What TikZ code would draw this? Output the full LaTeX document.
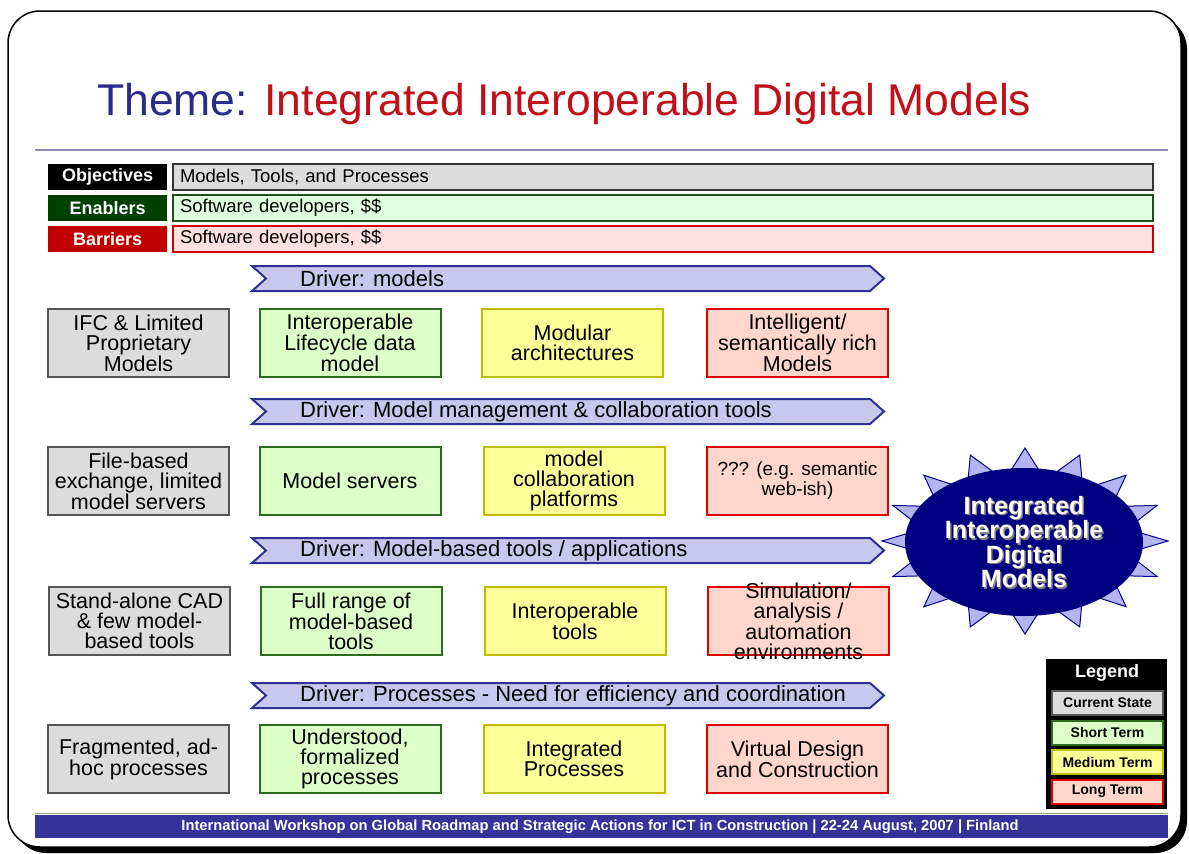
\documentclass[tikz,border=0pt]{standalone}
\usepackage{fontspec}
\setmainfont{Liberation Sans}
\usetikzlibrary{shapes.geometric}
\definecolor{titleblue}{HTML}{2B2B8C}
\definecolor{titlered}{HTML}{C0101A}
\definecolor{ruleviolet}{HTML}{8C8CB4}
\definecolor{objfill}{HTML}{DCDCDC}
\definecolor{objdraw}{HTML}{333333}
\definecolor{enlab}{HTML}{004000}
\definecolor{enfill}{HTML}{E0FFE0}
\definecolor{endraw}{HTML}{1E4D1E}
\definecolor{barlab}{HTML}{C00000}
\definecolor{barfill}{HTML}{FFE0E0}
\definecolor{bardraw}{HTML}{D00000}
\definecolor{drvfill}{HTML}{C8C8EE}
\definecolor{drvdraw}{HTML}{2E3192}
\definecolor{curfill}{HTML}{DCDCDC}
\definecolor{curdraw}{HTML}{555555}
\definecolor{stfill}{HTML}{DDFFC8}
\definecolor{stdraw}{HTML}{2F6B1F}
\definecolor{mdfill}{HTML}{FFFF99}
\definecolor{mddraw}{HTML}{BEBE00}
\definecolor{ltfill}{HTML}{FFD6CC}
\definecolor{ltdraw}{HTML}{E00000}
\definecolor{starfill}{HTML}{B4B4F0}
\definecolor{navy}{HTML}{000080}
\definecolor{footblue}{HTML}{333399}
\definecolor{footline}{HTML}{90A080}
\newcommand\mydriver[3]{%
  \path[drvshape] (252,{#2-12.5}) -- (870,{#2-12.5}) -- (884,#2) -- (870,{#2+12.5}) -- (252,{#2+12.5}) -- (266,#2) -- cycle;
  \node[drvtext] (#1) at (300,#2) {#3};}
\newcommand\mycell[5]{%
  \node[#2] (#1) at (#3,#4) {};
  \node[celltext] (#1t) at (#1.center) {#5};}
\begin{document}
\begin{tikzpicture}[x=1pt,y=-1pt,
  lab/.style={anchor=west, minimum width=119pt, minimum height=26pt, inner sep=0pt, text=white, font=\fontsize{18}{20}\selectfont\bfseries},
  barbox/.style={anchor=west, text width=966pt, inner xsep=7pt, inner ysep=0pt, minimum height=26pt, line width=2pt, font=\fontsize{18.5}{20}\selectfont},
  drvshape/.style={fill=drvfill, draw=drvdraw, line width=2pt, line join=miter},
  drvtext/.style={anchor=west, inner sep=0pt, font=\fontsize{22}{24}\selectfont},
  cell/.style={minimum width=181pt, minimum height=68pt, inner sep=0pt, line width=2pt},
  cur/.style={cell, fill=curfill, draw=curdraw},
  st/.style={cell, fill=stfill, draw=stdraw},
  md/.style={cell, fill=mdfill, draw=mddraw},
  lt/.style={cell, fill=ltfill, draw=ltdraw},
  celltext/.style={align=center, inner sep=0pt, font=\fontsize{21.5}{20}\selectfont},
  legitem/.style={minimum width=111pt, minimum height=24pt, inner sep=0pt, line width=2pt, font=\fontsize{14}{16}\selectfont\bfseries},
  startext/.style={align=center, inner sep=0pt, font=\fontsize{25}{23}\selectfont\bfseries}]
\useasboundingbox (0,0) rectangle (1189,854);
% frame
\fill[black, rounded corners=32pt] (14,17) rectangle (1187,853);
\draw[black, line width=1.5pt, fill=white, rounded corners=32pt] (8,11) rectangle (1181,847);
% title
\node[anchor=base west, inner sep=0pt, font=\fontsize{44.5}{50}\selectfont] (title) at (97,115)
  {\textcolor{titleblue}{Theme:} \textcolor{titlered}{Integrated Interoperable Digital Models}};
\draw[ruleviolet, line width=2pt] (35,150) -- (1168,150);
% objectives / enablers / barriers
\node[lab, fill=black] (objl) at (48,177) {Objectives};
\node[barbox, fill=objfill, draw=objdraw] (objb) at (172,177) {Models, Tools, and Processes};
\node[lab, fill=enlab] (enl) at (48,208) {Enablers};
\node[barbox, fill=enfill, draw=endraw] (enb) at (172,208) {Software developers, \$\$};
\node[lab, fill=barlab] (barl) at (48,239) {Barriers};
\node[barbox, fill=barfill, draw=bardraw] (barb) at (172,239) {Software developers, \$\$};
% starburst
\path[fill=starfill, draw=navy, line width=1pt, line join=miter] (1025,448)
  \foreach \k in {0,...,15} {
    -- ({1025+143*cos(90+22.5*\k)}, {541-93*sin(90+22.5*\k)})
    -- ({1025+104*cos(101.25+22.5*\k)}, {541-62*sin(101.25+22.5*\k)}) } -- cycle;
\node[ellipse, fill=navy, minimum width=238pt, minimum height=148pt, inner sep=0pt] (goal) at (1024,542) {};
\node[startext, text=gray] (goalsh) at ([shift={(1.5,1.5)}]goal.center) {Integrated\\Interoperable\\Digital\\Models};
\node[startext, text=white] (goalt) at (goal.center) {Integrated\\Interoperable\\Digital\\Models};
% drivers
\mydriver{d1}{278.5}{Driver: models}
\mydriver{d2}{411.5}{Driver: Model management \& collaboration tools}
\mydriver{d3}{550.5}{Driver: Model-based tools / applications}
\mydriver{d4}{695.5}{Driver: Processes - Need for efficiency and coordination}
% row 1
\mycell{a1}{cur}{138.5}{343}{IFC \& Limited\\Proprietary\\Models}
\mycell{b1}{st}{350}{343}{Interoperable\\Lifecycle data\\model}
\mycell{c1}{md}{572.5}{343}{Modular\\architectures}
\mycell{e1}{lt}{797.5}{343}{Intelligent/\\semantically rich\\Models}
% row 2
\mycell{a2}{cur}{138.5}{481}{File-based\\exchange, limited\\model servers}
\mycell{b2}{st}{350}{481}{Model servers}
\mycell{c2}{md}{574}{481}{model\\collaboration\\platforms}
\mycell{e2}{lt}{797.5}{481}{{\fontsize{19}{20}\selectfont ??? (e.g. semantic}\\{\fontsize{19}{20}\selectfont web-ish)}}
% row 3
\mycell{a3}{cur}{139.5}{621}{Stand-alone CAD\\\& few model-\\based tools}
\mycell{b3}{st}{351}{621}{Full range of\\model-based\\tools}
\mycell{c3}{md}{575}{621}{Interoperable\\tools}
\mycell{e3}{lt}{798.5}{621}{Simulation/\\analysis /\\automation\\environments}
% row 4
\mycell{a4}{cur}{138.5}{759}{Fragmented, ad-\\hoc processes}
\mycell{b4}{st}{350}{759}{Understood,\\formalized\\processes}
\mycell{c4}{md}{574}{759}{Integrated\\Processes}
\mycell{e4}{lt}{797.5}{759}{Virtual Design\\and Construction}
% legend
\node[fill=black, minimum width=121pt, minimum height=150pt, inner sep=0pt, anchor=north west] (leg) at (1046,659) {};
\node[text=white, font=\fontsize{18}{20}\selectfont\bfseries, inner sep=0pt] (legt) at (1107,673) {Legend};
\node[legitem, fill=curfill, draw=curdraw] (lg1) at (1107.5,703) {Current State};
\node[legitem, fill=stfill, draw=stdraw] (lg2) at (1107.5,732.5) {Short Term};
\node[legitem, fill=mdfill, draw=mddraw] (lg3) at (1107.5,762) {Medium Term};
\node[legitem, fill=ltfill, draw=ltdraw] (lg4) at (1107.5,791.5) {Long Term};
% footer
\draw[footline, line width=1.5pt] (35,813.5) -- (1168,813.5);
\node[fill=footblue, minimum width=1133pt, minimum height=23pt, inner sep=0pt, anchor=north west] (foot) at (35,815) {};
\node[text=white, inner sep=0pt] (foott) at (600,827) {\resizebox{837pt}{!}{\fontsize{14.5}{16}\selectfont\bfseries International Workshop on Global Roadmap and Strategic Actions for ICT in Construction | 22-24 August, 2007 | Finland}};
\end{tikzpicture}
\end{document}
